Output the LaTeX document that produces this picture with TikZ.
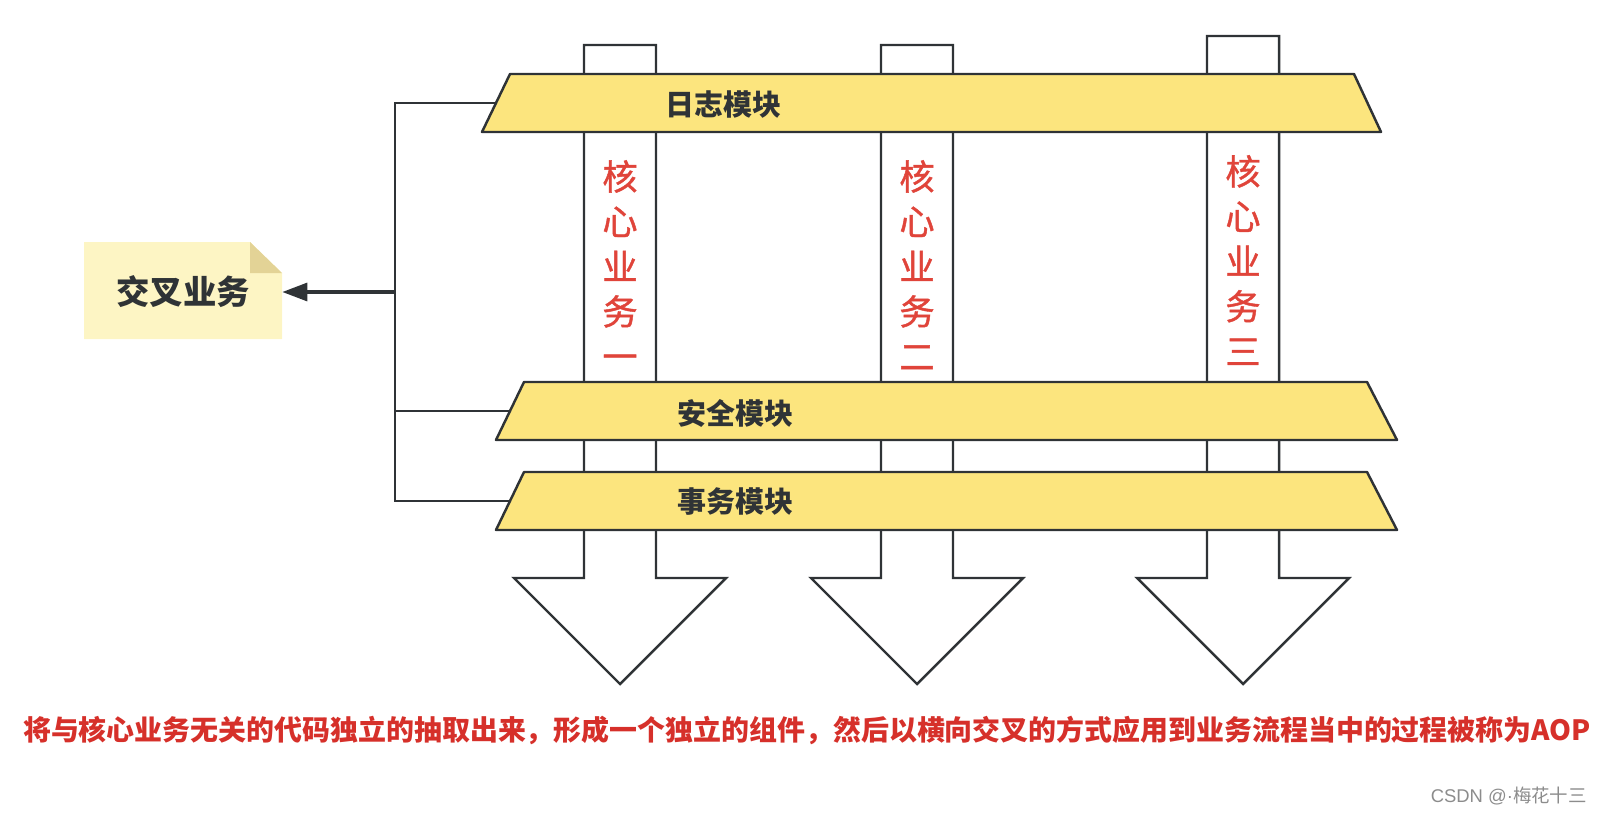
\documentclass[tikz,border=0pt]{standalone}
\usepackage{fontspec}
\newfontfamily\cjk{Noto Sans CJK SC}
\newfontfamily\cjkmid{Noto Sans CJK SC}[FakeBold=1.2]
\newfontfamily\latin{Liberation Sans}
\usetikzlibrary{arrows.meta}
\definecolor{bandyellow}{HTML}{FCE57E}
\definecolor{noteyellow}{HTML}{FDF5C4}
\definecolor{notefold}{HTML}{E3D396}
\definecolor{linegray}{HTML}{2F3336}
\definecolor{corered}{HTML}{E0443A}
\definecolor{aopred}{HTML}{D6302A}
\begin{document}
\begin{tikzpicture}[x=0.02cm,y=-0.02cm,
	band/.style={draw=linegray,line width=1.4pt,fill=bandyellow,line join=round},
	pipe/.style={draw=linegray,line width=1.4pt,fill=white},
	wire/.style={draw=linegray,line width=1.4pt},
	modlabel/.style={text=linegray,font=\cjk\bfseries\fontsize{16.5}{20}\selectfont},
	core/.style={text=corered,font=\cjkmid\fontsize{20}{25.6}\selectfont,align=center}]
	\useasboundingbox (0,0) rectangle (1608,814);
	% core business pipes with their arrow heads
	\foreach \cx/\top in {620/45,917/45,1243/36}{
		\draw[pipe] (\cx-36,\top) -- (\cx+36,\top) -- (\cx+36,578) -- (\cx+106,578)
		-- (\cx,684) -- (\cx-106,578) -- (\cx-36,578) -- cycle;
	}
	% cross-cutting modules
	\draw[band] (510,74) -- (1354,74) -- (1381,132) -- (482,132) -- cycle;
	\draw[band] (524,382) -- (1367,382) -- (1397,440) -- (496,440) -- cycle;
	\draw[band] (524,472) -- (1367,472) -- (1397,530) -- (496,530) -- cycle;
	\node[modlabel] (log) at (723,105) {日志模块};
	\node[modlabel] (safe) at (735,413) {安全模块};
	\node[modlabel] (tx) at (735,502) {事务模块};
	\node[core] (core1) at (620,265) {核\\心\\业\\务\\一};
	\node[core] (core2) at (917,265) {核\\心\\业\\务\\二};
	\node[core] (core3) at (1243,260) {核\\心\\业\\务\\三};
	% note with folded corner
	\fill[noteyellow] (84,242) -- (250,242) -- (282,273) -- (282,339) -- (84,339) -- cycle;
	\fill[notefold] (250,242) -- (250,273) -- (282,273) -- cycle;
	\node[text=linegray,font=\cjk\bfseries\fontsize{19}{22}\selectfont,
		minimum width=3.96cm,inner sep=0] (cross) at (183,292) {交叉业务};
	% connectors
	\coordinate (login) at (496,103);
	\coordinate (safein) at (510,411);
	\coordinate (txin) at (510,501);
	\coordinate (hub) at (395,292);
	\draw[wire,line join=miter] (login) -- (login -| hub) -- (txin -| hub) -- (txin);
	\draw[wire] (safein) -- (safein -| hub);
	\draw[wire,line width=1.8pt,-{Triangle[length=0.5cm,width=0.36cm]}] (hub) -- (cross.east);
	\node[text=aopred,font=\cjk\bfseries\fontsize{15.9}{18}\selectfont] (aop) at (807,730)
		{将与核心业务无关的代码独立的抽取出来，形成一个独立的组件，然后以横向交叉的方式应用到业务流程当中的过程被称为AOP};
	\node[text=black!45,font=\cjk\fontsize{10.5}{12}\selectfont,anchor=east] (mark) at (1593,796) {{\latin CSDN @·}梅花十三};
\end{tikzpicture}
\end{document}
